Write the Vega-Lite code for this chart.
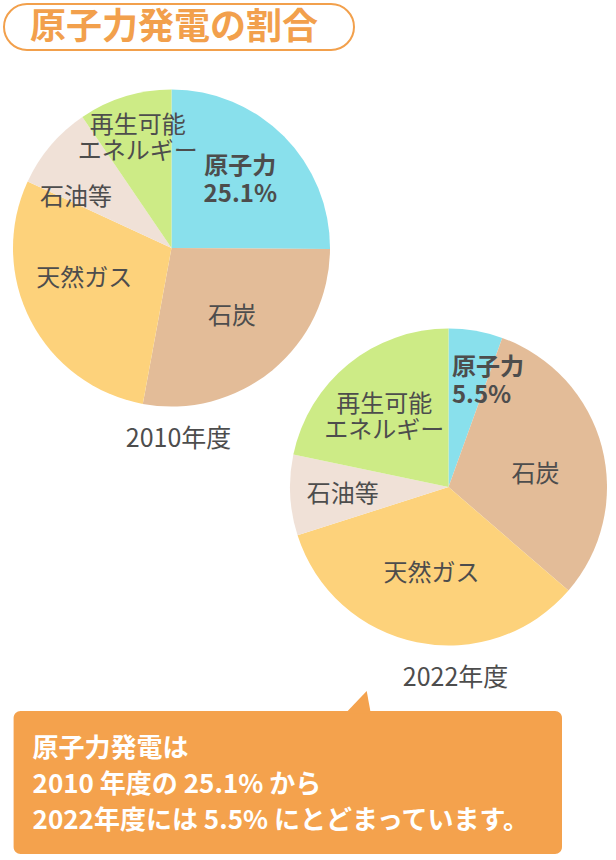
{
  "$schema": "https://vega.github.io/schema/vega-lite/v6.json",
  "padding": {"left": 3, "top": 3, "right": 0, "bottom": 0},
  "bounds": "flush",
  "spacing": 0,
  "config": {
    "view": {"stroke": null},
    "font": "Noto Sans CJK JP",
    "text": {"font": "Noto Sans CJK JP", "fontSize": 24, "fill": "#4d4d4d"}
  },
  "datasets": {
    "mix": [
      {"year": "2010年度", "n": 1, "source": "原子力", "label": "原子力\n25.1%", "share": 25.1},
      {"year": "2010年度", "n": 2, "source": "石炭", "label": "石炭", "share": 27.8},
      {"year": "2010年度", "n": 3, "source": "天然ガス", "label": "天然ガス", "share": 29.0},
      {"year": "2010年度", "n": 4, "source": "石油等", "label": "石油等", "share": 8.6},
      {"year": "2010年度", "n": 5, "source": "再生可能エネルギー", "label": "再生可能\nエネルギー", "share": 9.5},
      {"year": "2022年度", "n": 1, "source": "原子力", "label": "原子力\n5.5%", "share": 5.5},
      {"year": "2022年度", "n": 2, "source": "石炭", "label": "石炭", "share": 30.8},
      {"year": "2022年度", "n": 3, "source": "天然ガス", "label": "天然ガス", "share": 33.7},
      {"year": "2022年度", "n": 4, "source": "石油等", "label": "石油等", "share": 8.2},
      {"year": "2022年度", "n": 5, "source": "再生可能エネルギー", "label": "再生可能\nエネルギー", "share": 21.7}
    ]
  },
  "vconcat": [
    {
      "width": 350,
      "height": 46,
      "view": {"stroke": "#f2a04c", "strokeWidth": 2, "cornerRadius": 23},
      "data": {"values": [{"title": "原子力発電の割合"}]},
      "mark": {"type": "text", "fontSize": 36, "fontWeight": "bold", "fill": "#f2a04c", "baseline": "middle", "dx": -5, "dy": 1},
      "encoding": {"text": {"field": "title", "type": "nominal"}}
    },
    {
      "width": 610,
      "height": 661,
      "data": {"name": "mix"},
      "encoding": {
        "x": {"field": "year", "type": "nominal", "scale": {"type": "point", "range": [167.5, 444.5], "padding": 0}, "axis": null},
        "y": {"field": "year", "type": "nominal", "scale": {"type": "point", "range": [198, 437], "padding": 0}, "axis": null}
      },
      "layer": [
        {
          "transform": [{"filter": "datum.year == '2010年度'"}],
          "encoding": {
            "theta": {"field": "share", "type": "quantitative", "stack": "normalize"},
            "order": {"field": "n", "type": "quantitative"}
          },
          "layer": [
            {
              "mark": {"type": "arc", "radius": 158.5},
              "encoding": {
                "color": {
                  "field": "source", "type": "nominal", "legend": null,
                  "scale": {
                    "domain": ["原子力", "石炭", "天然ガス", "石油等", "再生可能エネルギー"],
                    "range": ["#89e0ec", "#e3bc98", "#fdd27b", "#f0e1d7", "#cdeb86"]
                  }
                }
              }
            },
            {
              "mark": {"type": "text", "radius": 95, "dy": -4},
              "encoding": {"text": {"condition": {"test": "datum.source == '石炭'", "field": "label", "type": "nominal"}, "value": ""}}
            },
            {
              "mark": {"type": "text", "radius": 95, "dx": -3, "dy": -13},
              "encoding": {"text": {"condition": {"test": "datum.source == '天然ガス'", "field": "label", "type": "nominal"}, "value": ""}}
            },
            {
              "mark": {"type": "text", "radius": 95, "dx": -23, "dy": 11},
              "encoding": {"text": {"condition": {"test": "datum.source == '石油等'", "field": "label", "type": "nominal"}, "value": ""}}
            },
            {
              "mark": {"type": "text", "radius": 115, "dy": -12, "lineBreak": "\n", "lineHeight": 26},
              "encoding": {"text": {"condition": {"test": "datum.source == '再生可能エネルギー'", "field": "label", "type": "nominal"}, "value": ""}}
            },
            {
              "mark": {"type": "text", "radius": 97, "dy": -13, "fontWeight": "bold", "lineBreak": "\n", "lineHeight": 28},
              "encoding": {"text": {"condition": {"test": "datum.source == '原子力'", "field": "label", "type": "nominal"}, "value": ""}}
            }
          ]
        },
        {
          "transform": [{"filter": "datum.year == '2022年度'"}],
          "encoding": {
            "theta": {"field": "share", "type": "quantitative", "stack": "normalize"},
            "order": {"field": "n", "type": "quantitative"}
          },
          "layer": [
            {
              "mark": {"type": "arc", "radius": 158.5},
              "encoding": {"color": {"field": "source", "type": "nominal", "legend": null}}
            },
            {
              "mark": {"type": "text", "radius": 95, "dx": -5, "dy": 12},
              "encoding": {"text": {"condition": {"test": "datum.source == '石炭'", "field": "label", "type": "nominal"}, "value": ""}}
            },
            {
              "mark": {"type": "text", "radius": 95, "dx": 2, "dy": -6},
              "encoding": {"text": {"condition": {"test": "datum.source == '天然ガス'", "field": "label", "type": "nominal"}, "value": ""}}
            },
            {
              "mark": {"type": "text", "radius": 95, "dx": -11, "dy": 3},
              "encoding": {"text": {"condition": {"test": "datum.source == '石油等'", "field": "label", "type": "nominal"}, "value": ""}}
            },
            {
              "mark": {"type": "text", "radius": 97, "dx": -3, "dy": -7, "lineBreak": "\n", "lineHeight": 26},
              "encoding": {"text": {"condition": {"test": "datum.source == '再生可能エネルギー'", "field": "label", "type": "nominal"}, "value": ""}}
            },
            {
              "mark": {"type": "text", "radius": 113, "align": "left", "dx": -16, "dy": -8, "fontWeight": "bold", "lineBreak": "\n", "lineHeight": 28},
              "encoding": {"text": {"condition": {"test": "datum.source == '原子力'", "field": "label", "type": "nominal"}, "value": ""}}
            }
          ]
        },
        {
          "transform": [{"aggregate": [{"op": "sum", "field": "share", "as": "total"}], "groupby": ["year"]}],
          "mark": {"type": "text", "dx": 7, "dy": 191, "fontSize": 25},
          "encoding": {"text": {"field": "year", "type": "nominal"}}
        }
      ]
    },
    {
      "width": 558,
      "height": 143,
      "data": {"values": [{"note": "原子力発電は\n2010 年度の 25.1% から\n2022年度には 5.5% にとどまっています。"}]},
      "encoding": {
        "x": {"datum": 0, "type": "quantitative", "scale": {"domain": [0, 1], "range": [9.6, 558]}, "axis": null}
      },
      "layer": [
        {
          "mark": {"type": "rect", "fill": "#f4a24d", "cornerRadius": 7},
          "encoding": {"x2": {"datum": 1}}
        },
        {
          "mark": {"type": "point", "shape": "M 83.7 -91.5 L 62.3 -69 L 87.8 -69 Z", "size": 4, "filled": true, "fill": "#f4a24d", "opacity": 1, "strokeWidth": 0},
          "encoding": {"x": null}
        },
        {
          "mark": {"type": "text", "align": "left", "baseline": "middle", "dx": 19, "dy": -33.5, "fontSize": 26, "fontWeight": "bold", "fill": "white", "lineBreak": "\n", "lineHeight": 36},
          "encoding": {"text": {"field": "note", "type": "nominal"}}
        }
      ]
    }
  ]
}
